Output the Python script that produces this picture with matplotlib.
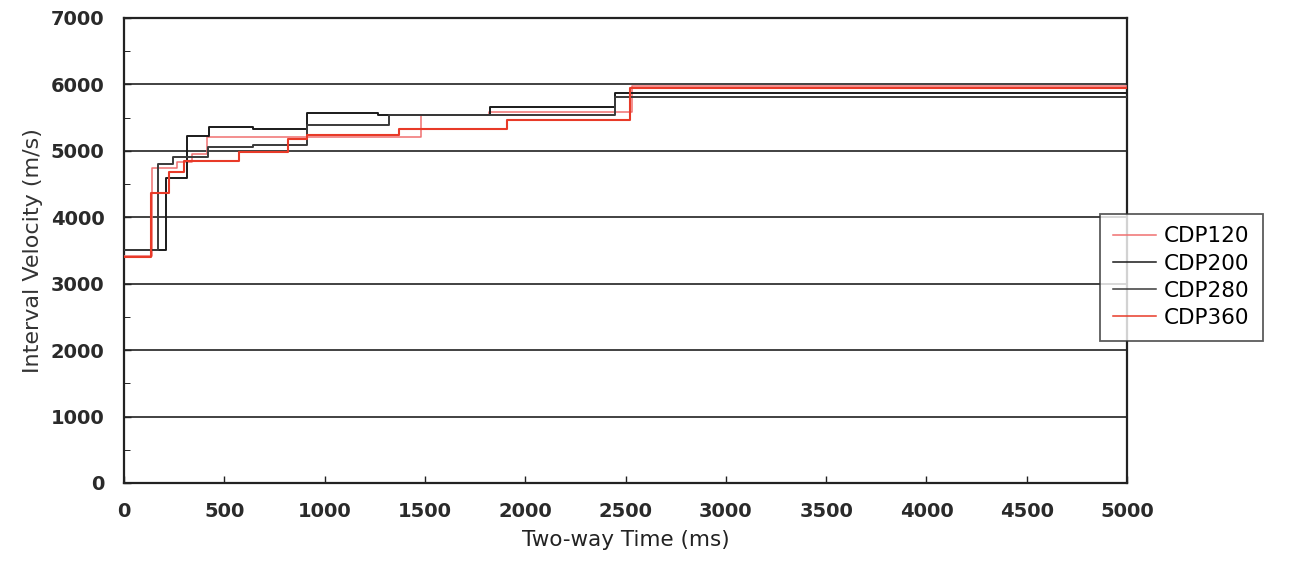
import numpy as np
import matplotlib.pyplot as plt
from matplotlib.ticker import MultipleLocator

# step changes (ms) and interval velocities (m/s)
t120 = [0, 140, 265, 340, 415, 1480, 1820, 2530, 5000]
v120 = [3420, 4740, 4830, 4950, 5210, 5540, 5580, 5970, 5970]

t200 = [0, 210, 315, 425, 645, 910, 1267, 1825, 2448, 5000]
v200 = [3500, 4590, 5225, 5360, 5330, 5570, 5535, 5660, 5870, 5870]

t280 = [0, 170, 245, 420, 645, 910, 1321, 2448, 5000]
v280 = [3500, 4800, 4900, 5060, 5090, 5390, 5535, 5815, 5815]

t360 = [0, 135, 225, 300, 575, 818, 910, 1371, 1909, 2520, 5000]
v360 = [3400, 4370, 4680, 4850, 4990, 5180, 5240, 5330, 5465, 5950, 5950]

plt.rcParams['font.family'] = ['DejaVu Sans']

fig = plt.figure(figsize=(13.06, 5.62), dpi=100)
ax = fig.add_axes([0.095, 0.1406, 0.768, 0.8274])

for y in range(1000, 7000, 1000):
    ax.axhline(y, color='#333333', lw=1.3, zorder=1)

ax.plot(t120, v120, drawstyle='steps-post', color='#f07070', lw=1.1, label='CDP120', zorder=3)
ax.plot(t200, v200, drawstyle='steps-post', color='#1a1a1a', lw=1.4, label='CDP200', zorder=3)
ax.plot(t280, v280, drawstyle='steps-post', color='#3a3a3a', lw=1.4, label='CDP280', zorder=3)
ax.plot(t360, v360, drawstyle='steps-post', color='#e83a28', lw=1.5, label='CDP360', zorder=4)

ax.set_xlim(0, 5000)
ax.set_ylim(0, 7000)
ax.xaxis.set_major_locator(MultipleLocator(500))
ax.yaxis.set_major_locator(MultipleLocator(1000))
ax.yaxis.set_minor_locator(MultipleLocator(500))
ax.tick_params(direction='in', length=5, width=1, colors='#222222')
ax.tick_params(which='minor', direction='in', length=4)
ax.tick_params(axis='x', pad=14)
ax.tick_params(axis='y', pad=14)
for lab in ax.get_xticklabels() + ax.get_yticklabels():
    lab.set_fontsize(14)
    lab.set_fontweight('bold')
    lab.set_color('#2a2a2a')
for s in ax.spines.values():
    s.set_linewidth(1.6)
    s.set_color('#222222')

ax.set_xlabel('Two-way Time (ms)', fontsize=15.5, color='#222222', labelpad=6)
ax.set_ylabel('Interval Velocity (m/s)', fontsize=16, color='#333333', labelpad=6)

leg = ax.legend(loc='upper left', bbox_to_anchor=(0.842, 0.62), bbox_transform=fig.transFigure,
                fontsize=15.5, frameon=True, fancybox=False, handlelength=2.0, handletextpad=0.4,
                borderpad=0.6, borderaxespad=0, labelspacing=0.33)
leg.get_frame().set_edgecolor('#333333')
leg.get_frame().set_linewidth(1.3)
for line in leg.get_lines():
    line.set_linewidth(1.1)

fig.savefig('out.png', dpi=100)
